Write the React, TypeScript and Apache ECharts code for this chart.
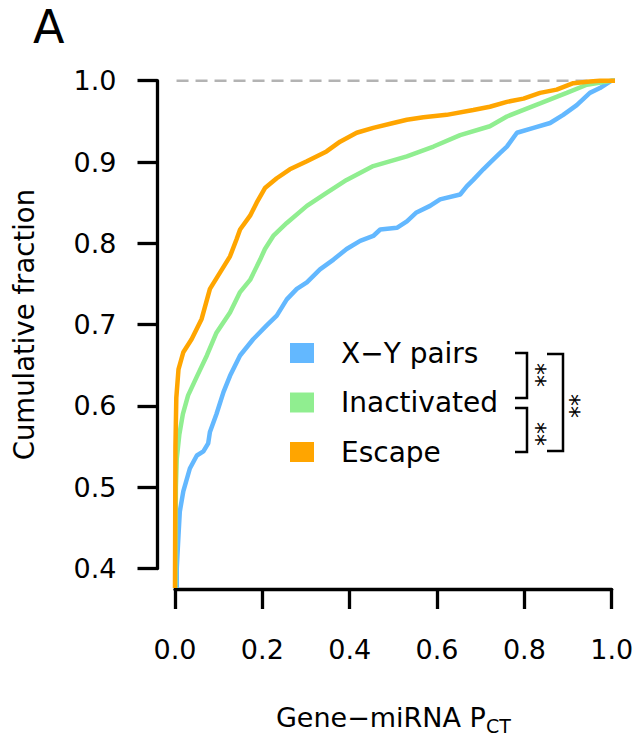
import React, { useEffect, useRef } from "react";
import * as echarts from "echarts";

// Tick labels
const xTicks = [0, 0.2, 0.4, 0.6, 0.8, 1.0];
const yTicks = [0.4, 0.5, 0.6, 0.7, 0.8, 0.9, 1.0];

// Series names
const seriesNames = ["X\u2212Y pairs", "Inactivated", "Escape"];
const seriesColors = ["#63B8FF", "#90EE90", "#FFA500"];

// X-Y pairs ECDF
const xyPairsX = [0.004, 0.004, 0.008, 0.011, 0.019, 0.034, 0.05, 0.065, 0.076, 0.08, 0.095, 0.111, 0.126, 0.149, 0.179, 0.21, 0.233, 0.256, 0.279, 0.302, 0.332, 0.363, 0.393, 0.424, 0.454, 0.47, 0.508, 0.531, 0.553, 0.584, 0.607, 0.653, 0.668, 0.683, 0.706, 0.721, 0.744, 0.76, 0.783, 0.821, 0.859, 0.889, 0.92, 0.95, 0.973, 0.996, 1.0, 1.04];
const xyPairsY = [0.376, 0.4, 0.441, 0.47, 0.495, 0.523, 0.539, 0.544, 0.554, 0.568, 0.59, 0.617, 0.637, 0.662, 0.682, 0.699, 0.711, 0.731, 0.744, 0.752, 0.768, 0.78, 0.793, 0.803, 0.809, 0.817, 0.819, 0.827, 0.838, 0.846, 0.854, 0.86, 0.87, 0.878, 0.891, 0.899, 0.911, 0.919, 0.936, 0.942, 0.948, 0.958, 0.97, 0.985, 0.991, 0.999, 1.0, 1.0];

// Inactivated ECDF
const inactX = [0.001, 0.002, 0.004, 0.01, 0.018, 0.03, 0.05, 0.073, 0.095, 0.126, 0.149, 0.172, 0.195, 0.206, 0.225, 0.256, 0.302, 0.347, 0.393, 0.454, 0.531, 0.592, 0.653, 0.721, 0.76, 0.836, 0.897, 0.943, 0.989, 1.0, 1.04];
const inactY = [0.376, 0.5, 0.535, 0.565, 0.59, 0.613, 0.636, 0.662, 0.69, 0.715, 0.74, 0.755, 0.78, 0.793, 0.809, 0.825, 0.846, 0.862, 0.878, 0.895, 0.907, 0.919, 0.933, 0.944, 0.956, 0.972, 0.985, 0.995, 0.999, 1.0, 1.0];

// Escape ECDF
const escapeX = [0, 0.001, 0.003, 0.008, 0.019, 0.038, 0.061, 0.08, 0.103, 0.126, 0.141, 0.149, 0.172, 0.187, 0.206, 0.233, 0.263, 0.302, 0.347, 0.378, 0.416, 0.454, 0.5, 0.531, 0.569, 0.622, 0.683, 0.721, 0.76, 0.798, 0.836, 0.874, 0.912, 0.95, 0.973, 1.04];
const escapeY = [0.376, 0.55, 0.61, 0.645, 0.666, 0.682, 0.707, 0.744, 0.764, 0.784, 0.805, 0.817, 0.834, 0.85, 0.868, 0.88, 0.891, 0.901, 0.913, 0.925, 0.936, 0.942, 0.948, 0.952, 0.955, 0.958, 0.964, 0.968, 0.974, 0.978, 0.985, 0.989, 0.997, 0.999, 1.0, 1.0];

// Reference line at 1.0 spanning the plot region
const refX = [-0.04, 1.04];
const refY = [1.0, 1.0];

const zip = (xs: number[], ys: number[]) => xs.map((x, i) => [x, ys[i]]);

const FONT = "DejaVu Sans";

export default function App() {
  const ref = useRef<HTMLDivElement>(null);
  useEffect(() => {
    if (!ref.current) return;
    const chart = echarts.init(ref.current, undefined, { renderer: "svg" });
    const curves = [zip(xyPairsX, xyPairsY), zip(inactX, inactY), zip(escapeX, escapeY)];
    const bracket = (pts: number[][]) => ({
      type: "polyline",
      shape: { points: pts },
      style: { stroke: "#000", lineWidth: 2.5, fill: null },
      silent: true,
    });
    const stars = (x: number, y: number) => ({
      type: "text",
      x,
      y,
      rotation: Math.PI / 2,
      style: {
        text: "**",
        fontSize: 24,
        fontFamily: FONT,
        fill: "#000",
        align: "center",
        verticalAlign: "middle",
      },
      silent: true,
    });
    chart.setOption({
      animation: false,
      backgroundColor: "#fff",
      grid: { left: 175, right: 27.3, top: 80.7, bottom: 169.5, containLabel: false },
      legend: {
        orient: "vertical",
        left: 285,
        top: 333,
        icon: "rect",
        itemWidth: 24,
        itemHeight: 20,
        itemGap: 19.5,
        data: seriesNames,
        textStyle: {
          fontSize: 28,
          fontFamily: FONT,
          color: "#000",
          lineHeight: 30,
          padding: [0, 0, 0, 22],
        },
      },
      xAxis: {
        type: "value",
        min: 0,
        max: 1,
        interval: 0.2,
        offset: 20.5,
        axisLine: { show: true, onZero: false, lineStyle: { color: "#000", width: 3.3 } },
        axisTick: { show: true, length: 20, lineStyle: { color: "#000", width: 3.3 } },
        axisLabel: {
          margin: 47,
          fontSize: 27,
          fontFamily: FONT,
          color: "#000",
          formatter: (v: number) => (xTicks.some((t) => Math.abs(t - v) < 1e-9) ? v.toFixed(1) : ""),
        },
        splitLine: { show: false },
        name: "{a|Gene\u2212miRNA P}{b|CT}",
        nameLocation: "middle",
        nameGap: 110,
        nameTextStyle: {
          rich: {
            a: { fontSize: 27, fontFamily: FONT, color: "#000", lineHeight: 36, verticalAlign: "middle" },
            b: { fontSize: 19, fontFamily: FONT, color: "#000", lineHeight: 19, verticalAlign: "bottom" },
          },
        },
      },
      yAxis: {
        type: "value",
        min: 0.4,
        max: 1.0,
        interval: 0.1,
        offset: 17.5,
        axisLine: { show: true, onZero: false, lineStyle: { color: "#000", width: 3.3 } },
        axisTick: { show: true, length: 20, lineStyle: { color: "#000", width: 3.3 } },
        axisLabel: {
          margin: 41,
          fontSize: 27,
          fontFamily: FONT,
          color: "#000",
          formatter: (v: number) => (yTicks.some((t) => Math.abs(t - v) < 1e-9) ? v.toFixed(1) : ""),
        },
        splitLine: { show: false },
        name: "Cumulative fraction",
        nameLocation: "middle",
        nameRotate: 90,
        nameGap: 120,
        nameTextStyle: { fontSize: 27.5, fontFamily: FONT, color: "#000" },
      },
      series: [
        {
          name: "ref",
          type: "line",
          data: zip(refX, refY),
          symbol: "none",
          clip: false,
          silent: true,
          lineStyle: { color: "#b3b3b3", width: 2.5, type: [12, 7] },
          z: 1,
        },
        ...seriesNames.map((n, i) => ({
          name: n,
          type: "line",
          data: curves[i],
          symbol: "none",
          showSymbol: false,
          clip: false,
          color: seriesColors[i],
          itemStyle: { color: seriesColors[i] },
          lineStyle: { color: seriesColors[i], width: 4.5 },
          z: 2 + i,
        })),
      ],
      graphic: [
        {
          type: "text",
          x: 33,
          y: 27,
          style: { text: "A", fontSize: 46, fontFamily: FONT, fill: "#000", verticalAlign: "middle", align: "left" },
        },
        bracket([[515, 353], [527, 353], [527, 398], [515, 398]]),
        bracket([[515, 408], [527, 408], [527, 452], [515, 452]]),
        bracket([[547, 354], [563, 354], [563, 451], [547, 451]]),
        stars(545, 375),
        stars(545, 434),
        stars(578.5, 406),
      ],
    });
    return () => chart.dispose();
  }, []);
  return (
    <div
      ref={ref}
      style={{ position: "absolute", left: 0, top: 0, width: 639, height: 740, background: "#fff" }}
    />
  );
}
